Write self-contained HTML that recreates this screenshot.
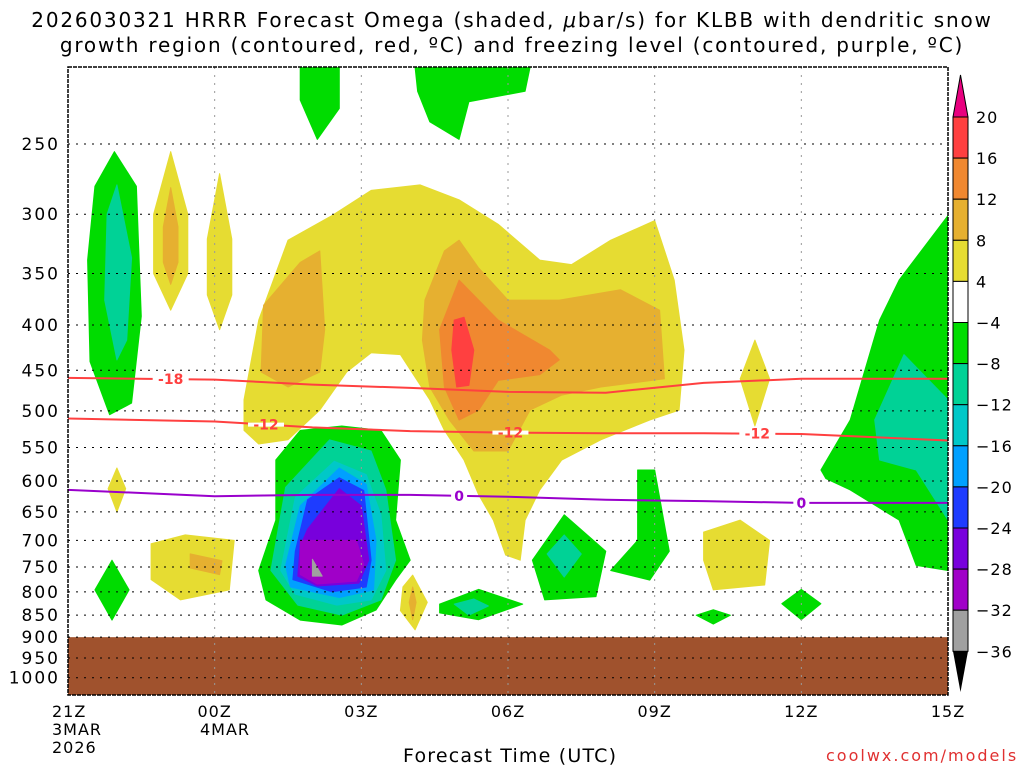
<!DOCTYPE html>
<html><head><meta charset="utf-8"><style>
body{margin:0;background:#fff;width:1024px;height:768px;overflow:hidden}
svg text{font-family:"DejaVu Sans","Liberation Sans",sans-serif}
</style></head><body>
<svg id="c" width="1024" height="768" xmlns="http://www.w3.org/2000/svg"></svg>
<script>
const xTickLabels=["21Z","00Z","03Z","06Z","09Z","12Z","15Z"];
const xTickHours=[0,3,6,9,12,15,18];
const yTicks=[250,300,350,400,450,500,550,600,650,700,750,800,850,900,950,1000];
const cbLevels=[20,16,12,8,4,-4,-8,-12,-16,-20,-24,-28,-32,-36];
const cbColors=["#ff4040","#f08830","#e6b030","#e6dc32","#ffffff","#00dc00","#00d296","#00c8c8","#00a0ff","#1e3cff","#7800dc","#a000c8","#a0a0a0"];
const regYellow=[[0,486],[0.3,395],[0.9,321],[1.8,301],[2.6,282],[3.6,278],[4.4,289],[5.2,308],[6.05,338],[6.7,342],[7.5,321],[8.4,305],[8.8,356],[9.0,427],[8.9,499],[8.3,512],[7.3,539],[6.5,568],[6.05,614],[5.75,664],[5.65,737],[5.35,727],[5.1,664],[4.8,622],[4.5,568],[4.1,526],[3.8,486],[3.2,432],[2.6,430],[2.1,452],[1.55,499],[0.9,539],[0.3,545],[0,526]].map(p=>[p[0]+3.6,p[1]]);
const regOrangeL=[[4.0,380],[4.75,340],[5.15,330],[5.25,405],[5.15,452],[4.5,470],[3.95,452]];
const regOrangeM=[[7.3,375],[7.7,330],[8.0,321],[8.4,345],[9.0,375],[10.05,375],[11.3,365],[12.1,385],[12.2,460],[10.9,470],[10.1,480],[9.45,499],[9.0,555],[8.3,555],[7.8,512],[7.4,470],[7.25,416]];
const regOrange2=[[7.6,405],[8.0,356],[8.8,395],[9.85,427],[10.05,438],[9.65,455],[8.8,462],[8.4,499],[8.0,512],[7.7,470]];
const regRed=[[7.9,395],[8.1,392],[8.3,427],[8.2,468],[7.95,470],[7.85,427]];
const regY2=[[2.1,255],[2.45,300],[2.45,350],[2.1,385],[1.75,350],[1.75,300]];
const regO2=[[2.1,280],[2.25,310],[2.25,340],[2.1,360],[1.95,340],[1.95,310]];
const regY3=[[3.1,270],[3.35,320],[3.35,370],[3.1,405],[2.85,370],[2.85,320]];
const regY4=[[1.0,580],[1.18,612],[1.0,650],[0.82,612]];
const regY5=[[1.7,706],[2.4,690],[3.4,700],[3.3,796],[2.3,817],[1.7,775]];
const regO5=[[2.5,725],[3.15,738],[3.1,765],[2.5,752]];
const regY6=[[13,685],[13.75,664],[14.35,700],[14.25,786],[13.2,796],[13,737]];
const regY7=[[14.05,416],[14.35,460],[14.05,520],[13.75,460]];
const regY8=[[7.05,766],[7.35,822],[7.1,883],[6.8,840],[6.85,790]];
const regO8=[[7.05,790],[7.12,822],[7.05,860],[6.98,822]];
const regG1=[[0.4,338],[0.55,279],[0.95,255],[1.4,279],[1.5,391],[1.3,490],[0.85,505],[0.45,440]];
const regT1=[[0.8,300],[1.0,278],[1.3,336],[1.2,416],[1.0,438],[0.75,375]];
const regG2=[[4.75,205],[5.55,205],[5.55,228],[5.1,247],[4.75,223]];
const regG3=[[7.1,205],[9.45,205],[9.35,218],[8.2,224],[8.0,247],[7.4,236],[7.15,218]];
const regG4=[[4.25,568],[4.75,526],[5.6,520],[6.4,526],[6.8,568],[6.7,664],[7.0,737],[6.7,776],[6.3,839],[5.6,872],[4.75,861],[4.05,817],[3.9,757],[4.25,664]];
const regT4=[[4.45,610],[5.35,539],[6.2,555],[6.5,614],[6.7,737],[6.4,817],[5.6,850],[4.7,828],[4.15,757]];
const regC4=[[4.65,626],[5.45,570],[6.1,590],[6.4,655],[6.5,757],[6.2,817],[5.5,828],[4.65,805],[4.35,757]];
const regB4=[[4.75,640],[5.55,580],[6.1,605],[6.3,700],[6.25,796],[5.55,812],[4.55,790],[4.45,747]];
const regDB4=[[4.9,630],[5.55,595],[6.05,615],[6.2,737],[6.1,790],[5.4,800],[4.6,775],[4.65,720]];
const regP4=[[4.9,680],[5.55,612],[6.0,640],[6.15,737],[5.95,782],[5.1,788],[4.7,768],[4.75,710]];
const regM4=[[4.75,700],[5.9,700],[6.05,745],[5.9,778],[5.1,784],[4.75,765]];
const regGr4=[[5.0,735],[5.2,768],[5.0,768]];
const regG5=[[0.9,737],[1.25,796],[0.9,861],[0.55,796]];
const regG6=[[9.5,737],[10.15,655],[11.0,720],[10.8,810],[9.75,817]];
const regT6=[[10.15,690],[10.5,725],[10.15,770],[9.8,725]];
const regG7=[[11.65,583],[12.0,583],[12.3,720],[11.9,776],[11.1,757],[11.65,700]];
const regG8=[[7.6,826],[8.4,795],[9.3,826],[8.4,860],[7.6,845]];
const regT8=[[7.9,826],[8.3,815],[8.6,830],[8.2,850]];
const regG9=[[12.85,850],[13.2,838],[13.55,850],[13.2,870]];
const regG10=[[14.6,825],[15.0,795],[15.4,825],[15.0,860]];
const regG11=[[15.4,583],[16.0,512],[16.6,395],[17.0,356],[18,301],[18,757],[17.35,747],[17.0,664],[16.0,614],[15.5,596]];
const regT11=[[16.5,512],[17.1,432],[18,486],[18,664],[17.35,583],[16.6,568]];
const regions=[[3,regYellow],[2,regOrangeL],[2,regOrangeM],[1,regOrange2],[0,regRed],[3,regY2],[2,regO2],[3,regY3],[3,regY4],[3,regY5],[2,regO5],[3,regY6],[3,regY7],[3,regY8],[2,regO8],
[5,regG1],[6,regT1],[5,regG2],[5,regG3],[5,regG4],[6,regT4],[7,regC4],[8,regB4],[9,regDB4],[10,regP4],[11,regM4],[12,regGr4],[5,regG5],[5,regG6],[6,regT6],[5,regG7],[5,regG8],[6,regT8],[5,regG9],[5,regG10],[5,regG11],[6,regT11]];
const lineHours=[0,3,5,7,9,11,13,15,18];
const line18=[459,461,467,471,476,477,465,460,460];
const line12=[510,514,522,527,529,530,530,531,540];
const line0=[614,624,622,622,625,630,632,635,635];
const ns="http://www.w3.org/2000/svg";
const svg=document.getElementById('c');
const X0=68,X1=948,Y0=67,Y1=695;
const xs=h=>X0+h*(X1-X0)/18;
const ys=p=>144+385*Math.log(p/250);
function el(t,a,parent){const e=document.createElementNS(ns,t);for(const k in a)e.setAttribute(k,a[k]);(parent||svg).appendChild(e);return e;}
const clip=el('clipPath',{id:'pc'});el('rect',{x:X0,y:Y0,width:X1-X0,height:Y1-Y0},clip);
const g=el('g',{'clip-path':'url(#pc)'});
regions.forEach((r,i)=>{const d='M'+r[1].map(p=>xs(p[0]).toFixed(1)+','+ys(p[1]).toFixed(1)).join('L')+'Z';
const e=el('path',{d:d,fill:cbColors[r[0]],stroke:cbColors[r[0]],'stroke-width':1,'stroke-linejoin':'round'},g);

});
const gr=el('rect',{x:X0,y:ys(900),width:X1-X0,height:Y1-ys(900),fill:'#a0522d'},g);


yTicks.forEach(p=>{const l=el('line',{x1:X0,x2:X1,y1:ys(p),y2:ys(p),stroke:'#000','stroke-width':1,'stroke-dasharray':'2,6'},g);


const t=el('text',{x:60,y:ys(p)+6,'text-anchor':'end','font-size':17,'letter-spacing':2,fill:'#000'});t.textContent=p;

});
xTickHours.forEach((h,i)=>{if(i>0&&i<6){const l=el('line',{x1:xs(h),x2:xs(h),y1:Y0,y2:Y1,stroke:'#999','stroke-width':1,'stroke-dasharray':'2,6'},g);

}
const t=el('text',{x:i==0?52:xs(h),y:717,'text-anchor':i==0?'start':'middle','font-size':16,'letter-spacing':1});t.textContent=xTickLabels[i];

});
function cline(vals,color,labels,lab,name){const d='M'+vals.map((p,i)=>xs(lineHours[i]).toFixed(1)+','+ys(p).toFixed(1)).join('L');
const e=el('path',{d:d,fill:'none',stroke:color,'stroke-width':2},g);


labels.forEach(h=>{let k=0;while(k<lineHours.length-2&&lineHours[k+1]<h)k++;const f=(h-lineHours[k])/(lineHours[k+1]-lineHours[k]);const p=vals[k]+(vals[k+1]-vals[k])*f;
el('rect',{x:xs(h)-(lab.length*5+3),y:ys(p)-2,width:lab.length*10+6,height:4,fill:'#fff'},g);
const t=el('text',{x:xs(h),y:ys(p)+5,'text-anchor':'middle','font-size':14,'font-weight':'bold',fill:color},g);t.textContent=lab;

});}
cline(line18,'#ff4040',[2.1],'-18','contour-minus18');
cline(line12,'#ff4040',[4.05,9.05,14.1],'-12','contour-minus12');
cline(line0,'#9900cc',[8.0,15.0],'0','freezing-level');
const fr=el('rect',{x:X0,y:Y0,width:X1-X0,height:Y1-Y0,fill:'none',stroke:'#000','stroke-width':1.5,'stroke-dasharray':'4,1'});


const cbx=953,cbw=15,cbTop=117,cbStep=41.1;
const tri1=el('polygon',{points:`${cbx},${cbTop} ${cbx+cbw},${cbTop} ${cbx+cbw/2},75`,fill:'#e8007f',stroke:'#000'});


cbColors.forEach((c,i)=>{const r=el('rect',{x:cbx,y:cbTop+i*cbStep,width:cbw,height:cbStep,fill:c,stroke:'#000','stroke-width':1});

});
const yb=cbTop+cbColors.length*cbStep;
const tri2=el('polygon',{points:`${cbx},${yb} ${cbx+cbw},${yb} ${cbx+cbw/2},692`,fill:'#000'});


cbLevels.forEach((v,i)=>{const t=el('text',{x:976,y:cbTop+i*cbStep+6,'font-size':16,'letter-spacing':1});t.textContent=v<0?'\u2212'+(-v):v;

});
</script>
<div style="position:absolute;left:0;top:0;width:1024px;font-family:'DejaVu Sans','Liberation Sans',sans-serif">
<div style="position:absolute;left:0;top:8px;width:1024px;text-align:center;font-size:20px;line-height:25px;letter-spacing:1.8px">2026030321 HRRR Forecast Omega (shaded, <i>μ</i>bar/s) for KLBB with dendritic snow<br>growth region (contoured, red, ºC) and freezing level (contoured, purple, ºC)</div>
<div style="position:absolute;left:52px;top:721px;font-size:16px;line-height:18px;letter-spacing:1px">3MAR<br>2026</div>
<div style="position:absolute;left:200px;top:721px;font-size:16px;line-height:18px;letter-spacing:1px">4MAR</div>
<div style="position:absolute;left:403px;top:745px;font-size:19px;letter-spacing:1.2px">Forecast Time (UTC)</div>
<div style="position:absolute;left:826px;top:746px;font-size:16px;color:#e03030;letter-spacing:2px">coolwx.com/models</div>
</div>
</body></html>
